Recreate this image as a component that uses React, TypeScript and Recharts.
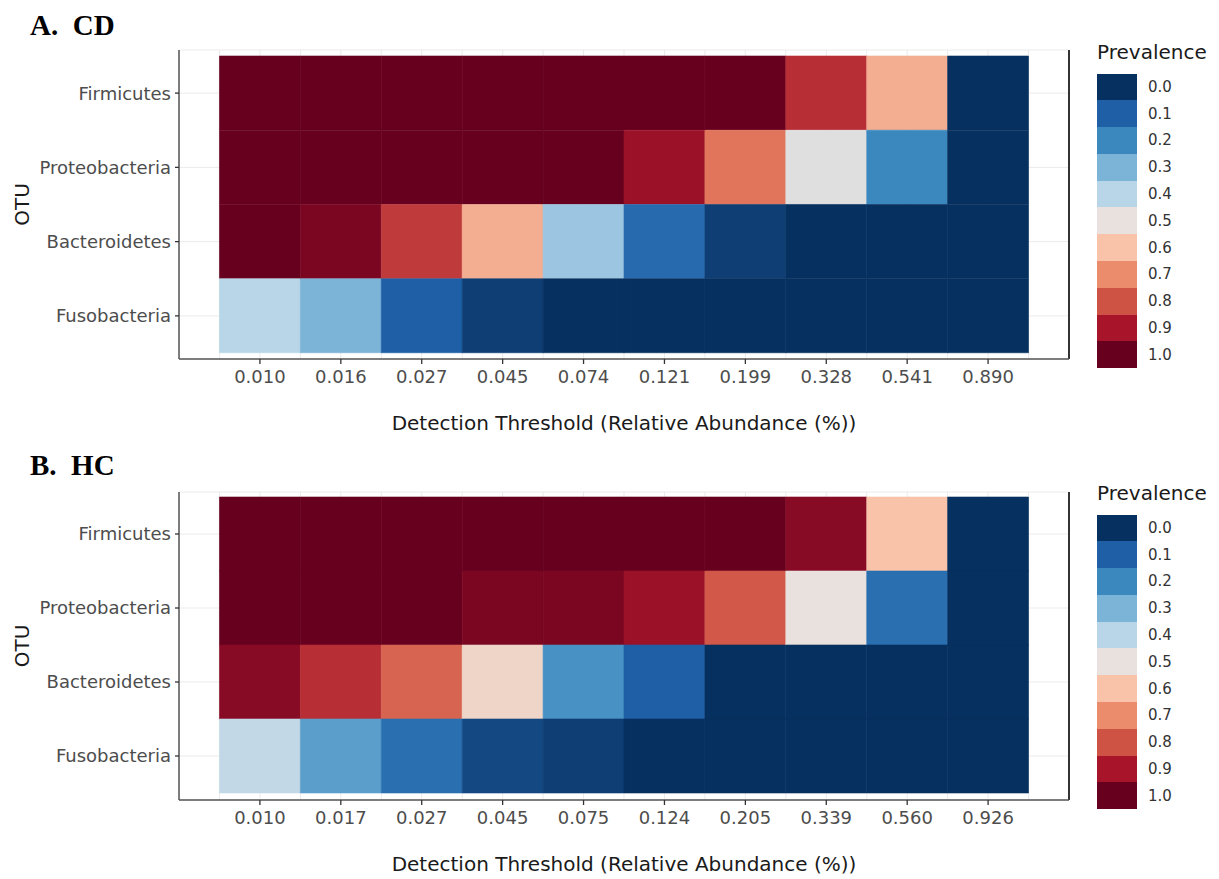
import React from "react";
import { BarChart, Bar, Cell, XAxis, YAxis, CartesianGrid, ReferenceLine, Label } from "recharts";

const FONT = "'DejaVu Sans', sans-serif";

const otus = ["Firmicutes", "Proteobacteria", "Bacteroidetes", "Fusobacteria"];

const thresholdsCD = ["0.010", "0.016", "0.027", "0.045", "0.074", "0.121", "0.199", "0.328", "0.541", "0.890"];
const thresholdsHC = ["0.010", "0.017", "0.027", "0.045", "0.075", "0.124", "0.205", "0.339", "0.560", "0.926"];

// prevalence per OTU, one value per detection threshold
const cdFirmicutes = [1, 1, 1, 1, 1, 1, 1, 0.86, 0.64, 0];
const cdProteobacteria = [1, 1, 1, 1, 1, 0.92, 0.74, 0.48, 0.2, 0];
const cdBacteroidetes = [1, 0.97, 0.84, 0.64, 0.35, 0.13, 0.03, 0, 0, 0];
const cdFusobacteria = [0.4, 0.3, 0.1, 0.03, 0, 0, 0, 0, 0, 0];

const hcFirmicutes = [1, 1, 1, 1, 1, 1, 1, 0.95, 0.6, 0];
const hcProteobacteria = [1, 1, 1, 0.97, 0.97, 0.92, 0.79, 0.5, 0.14, 0];
const hcBacteroidetes = [0.95, 0.86, 0.77, 0.54, 0.22, 0.1, 0, 0, 0, 0];
const hcFusobacteria = [0.42, 0.25, 0.14, 0.05, 0.03, 0, 0, 0, 0, 0];

const legendLabels = ["0.0", "0.1", "0.2", "0.3", "0.4", "0.5", "0.6", "0.7", "0.8", "0.9", "1.0"];
const legendColors = [
  "#06305f", "#1f5fa6", "#3b88bf", "#7cb4d7", "#b9d6e8", "#e8e1dd",
  "#f9c3a9", "#eb8c6c", "#cf5345", "#a8152a", "#67001f",
];

function hexToRgb(h: string) {
  const n = parseInt(h.slice(1), 16);
  return [(n >> 16) & 255, (n >> 8) & 255, n & 255];
}

// linear blend between the legend stops
function prevalenceColor(p: number) {
  const t = Math.max(0, Math.min(1, p)) * (legendColors.length - 1);
  const i = Math.min(Math.floor(t), legendColors.length - 2);
  const f = t - i;
  const a = hexToRgb(legendColors[i]);
  const b = hexToRgb(legendColors[i + 1]);
  const c = a.map((v, k) => Math.round(v + (b[k] - v) * f));
  return `rgb(${c[0]},${c[1]},${c[2]})`;
}

function XTick(props: any) {
  const { x, y, payload, labels } = props;
  const idx = payload.value - 0.5;
  if (!Number.isInteger(idx)) return null;
  return (
    <g>
      <line x1={x} x2={x} y1={y - 10} y2={y - 5} stroke="#333" strokeWidth={1.3} />
      <text x={x} y={y} dy="0.76em" textAnchor="middle" fontSize={18} fill="#4d4d4d" fontFamily={FONT}>
        {labels[idx]}
      </text>
    </g>
  );
}

function PrevalenceLegend({ top }: { top: number }) {
  return (
    <div style={{ position: "absolute", left: 1097, top, fontFamily: FONT }}>
      <div style={{ fontSize: 20, lineHeight: "24px", height: 24, color: "#1a1a1a" }}>Prevalence</div>
      <div style={{ marginTop: 9.5 }}>
        {legendLabels.map((label, i) => (
          <div key={label} style={{ display: "flex", alignItems: "center", height: 26.8 }}>
            <div style={{ width: 40, height: "100%", background: legendColors[i] }} />
            <span style={{ marginLeft: 11, fontSize: 15, color: "#333" }}>{label}</span>
          </div>
        ))}
      </div>
    </div>
  );
}

type PanelProps = {
  tag: string;
  thresholds: string[];
  prevalence: number[][];
  top: number;
  height: number;
  marginTop: number;
  xAxisHeight: number;
  xLabelOffset: number;
  padTop: number;
  padBottom: number;
};

function HeatPanel(p: PanelProps) {
  const rows = otus.map((otu) => {
    const row: Record<string, any> = { otu };
    p.thresholds.forEach((_, i) => (row[`c${i}`] = 1));
    return row;
  });
  const ticks: number[] = [];
  for (let k = 0; k <= p.thresholds.length * 2; k++) ticks.push(k / 2);

  return (
    <div style={{ position: "absolute", left: 0, top: p.top, width: 1219, height: p.height }}>
      <div
        style={{
          position: "absolute",
          left: 30,
          top: 10,
          fontFamily: "'Liberation Serif', 'Times New Roman', serif",
          fontWeight: "bold",
          fontSize: 29,
          lineHeight: "30px",
          whiteSpace: "pre",
          color: "#000",
        }}
      >
        {p.tag}
      </div>
      <BarChart
        width={1080}
        height={p.height}
        data={rows}
        layout="vertical"
        margin={{ top: p.marginTop, right: 11, bottom: 0, left: 0 }}
        barCategoryGap={0}
        style={{ position: "absolute", left: 0, top: 0 }}
      >
        <CartesianGrid stroke="#ebebeb" strokeWidth={1} />
        <XAxis
          type="number"
          domain={[-0.5, p.thresholds.length + 0.5]}
          ticks={ticks}
          interval={0}
          allowDataOverflow
          height={p.xAxisHeight}
          tickLine={false}
          tickSize={5}
          tickMargin={5}
          tick={<XTick labels={p.thresholds} />}
          axisLine={{ stroke: "#555", strokeWidth: 1.5 }}
        >
          <Label
            value="Detection Threshold (Relative Abundance (%))"
            position="insideBottom"
            offset={p.xLabelOffset}
            style={{ fontSize: 20, fill: "#1a1a1a", fontFamily: FONT }}
          />
        </XAxis>
        <YAxis
          type="category"
          dataKey="otu"
          width={179}
          interval={0}
          tickSize={4}
          tickMargin={4}
          tickLine={{ stroke: "#333", strokeWidth: 1.3 }}
          axisLine={{ stroke: "#555", strokeWidth: 1.5 }}
          tick={{ fontSize: 18, fill: "#4d4d4d", fontFamily: FONT }}
          padding={{ top: p.padTop, bottom: p.padBottom }}
        >
          <Label
            value="OTU"
            angle={-90}
            position="insideLeft"
            offset={22}
            style={{ fontSize: 20, fill: "#1a1a1a", textAnchor: "middle", fontFamily: FONT }}
          />
        </YAxis>
        {p.thresholds.map((t, i) => (
          <Bar key={`c${i}`} dataKey={`c${i}`} stackId="tiles" isAnimationActive={false}>
            {p.prevalence.map((row, r) => {
              const color = prevalenceColor(row[i]);
              return <Cell key={r} fill={color} stroke={color} strokeWidth={0.6} />;
            })}
          </Bar>
        ))}
        <ReferenceLine x={p.thresholds.length + 0.5} stroke="#333" strokeWidth={2} />
      </BarChart>
    </div>
  );
}

export default function App() {
  return (
    <div style={{ position: "absolute", left: 0, top: 0, width: 1219, height: 879, background: "#fff", fontFamily: FONT }}>
      <HeatPanel
        tag={"A.  CD"}
        thresholds={thresholdsCD}
        prevalence={[cdFirmicutes, cdProteobacteria, cdBacteroidetes, cdFusobacteria]}
        top={0}
        height={440}
        marginTop={50}
        xAxisHeight={81}
        xLabelOffset={10}
        padTop={6}
        padBottom={6}
      />
      <PrevalenceLegend top={40} />
      <HeatPanel
        tag={"B.  HC"}
        thresholds={thresholdsHC}
        prevalence={[hcFirmicutes, hcProteobacteria, hcBacteroidetes, hcFusobacteria]}
        top={440}
        height={439}
        marginTop={52}
        xAxisHeight={79}
        xLabelOffset={8}
        padTop={5}
        padBottom={7}
      />
      <PrevalenceLegend top={481} />
    </div>
  );
}
